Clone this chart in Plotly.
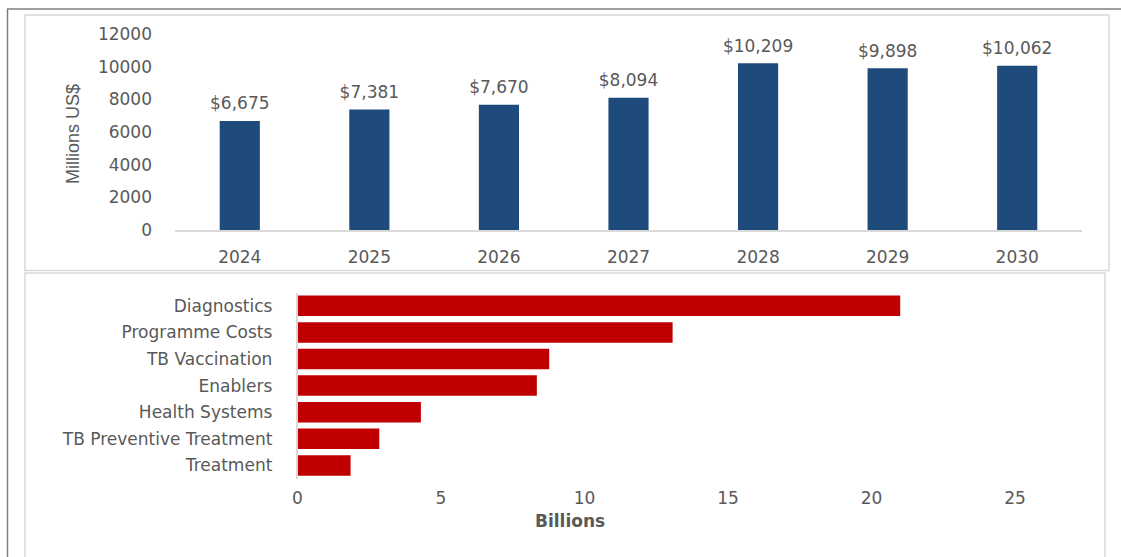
import plotly.graph_objects as go

# Annual resource needs (millions US$)
years = ["2024", "2025", "2026", "2027", "2028", "2029", "2030"]
annual_millions = [6675, 7381, 7670, 8094, 10209, 9898, 10062]

# Cumulative needs by intervention area (billions US$)
areas = ["Diagnostics", "Programme Costs", "TB Vaccination", "Enablers",
         "Health Systems", "TB Preventive Treatment", "Treatment"]
area_billions = [21.0, 13.07, 8.77, 8.34, 4.30, 2.85, 1.85]

W, H = 1121, 557
TEXT = "#595959"
FONT = "DejaVu Sans"
BLUE = "#1f4a7c"
RED = "#c00000"


def px_x(x):
    return x / W


def px_y(y):
    return 1 - y / H


fig = go.Figure()

fig.add_trace(go.Bar(
    x=years, y=annual_millions, marker=dict(color=BLUE, line=dict(width=0)),
    width=0.31, xaxis="x", yaxis="y", showlegend=False,
))

# value labels above the annual bars; the transparent marker sets the gap
fig.add_trace(go.Scatter(
    x=years, y=annual_millions, mode="markers+text",
    text=[f"${v:,}" for v in annual_millions], textposition="top center",
    textfont=dict(family=FONT, size=17, color=TEXT),
    marker=dict(size=10, opacity=0), cliponaxis=False,
    xaxis="x", yaxis="y", showlegend=False, hoverinfo="skip",
))

fig.add_trace(go.Bar(
    y=areas, x=area_billions, orientation="h",
    marker=dict(color=RED, line=dict(width=0)),
    width=0.77, xaxis="x2", yaxis="y2", showlegend=False,
))

annotations = [
    dict(x=px_x(73), y=px_y(134), xref="paper", yref="paper", text="Millions US$",
         xanchor="center", yanchor="middle", showarrow=False, textangle=-90,
         font=dict(family="Liberation Sans Narrow, Arial Narrow, Liberation Sans",
                   size=18, color=TEXT)),
    dict(x=px_x(570), y=px_y(521), xref="paper", yref="paper", text="<b>Billions</b>",
         xanchor="center", yanchor="middle", showarrow=False,
         font=dict(family=FONT, size=17, color=TEXT)),
]

shapes = [
    # outer frame lines
    dict(type="line", xref="paper", yref="paper", x0=px_x(7), x1=px_x(1125),
         y0=px_y(9), y1=px_y(9), line=dict(color="#7f7f7f", width=1.5)),
    dict(type="line", xref="paper", yref="paper", x0=px_x(7.5), x1=px_x(7.5),
         y0=px_y(9), y1=px_y(560), line=dict(color="#7f7f7f", width=1.5)),
    # panel boxes
    dict(type="rect", xref="paper", yref="paper", x0=px_x(25), x1=px_x(1109),
         y0=px_y(270.5), y1=px_y(15), line=dict(color="#d9d9d9", width=1.5)),
    dict(type="rect", xref="paper", yref="paper", x0=px_x(25), x1=px_x(1105),
         y0=px_y(565), y1=px_y(273), line=dict(color="#d9d9d9", width=1.5)),
]

fig.update_layout(
    template="none",
    width=W, height=H,
    margin=dict(l=0, r=0, t=0, b=0, pad=0, autoexpand=False),
    paper_bgcolor="white", plot_bgcolor="white",
    font=dict(family=FONT, size=16, color=TEXT),
    xaxis=dict(
        domain=[px_x(175), px_x(1082)], anchor="y", automargin=False,
        type="category", range=[-0.5, 6.5],
        showline=True, linecolor="#d9d9d9", linewidth=1.5,
        showgrid=False, zeroline=False, ticks="", ticklabelstandoff=11,
        tickfont=dict(family=FONT, size=17, color=TEXT), fixedrange=True,
    ),
    yaxis=dict(
        domain=[px_y(230), px_y(34)], anchor="x", automargin=False,
        range=[0, 12000], tickvals=[0, 2000, 4000, 6000, 8000, 10000, 12000],
        ticktext=["0", "2000", "4000", "6000", "8000", "10000", "12000"],
        showgrid=False, zeroline=False, showline=False, ticks="",
        ticklabelstandoff=22,
        tickfont=dict(family=FONT, size=17, color=TEXT), fixedrange=True,
    ),
    xaxis2=dict(
        domain=[px_x(297.5), px_x(1015)], anchor="y2", automargin=False,
        range=[0, 25], tickvals=[0, 5, 10, 15, 20, 25],
        showgrid=False, zeroline=False, showline=False, ticks="",
        ticklabelstandoff=7,
        tickfont=dict(family=FONT, size=17, color=TEXT), fixedrange=True,
    ),
    yaxis2=dict(
        domain=[px_y(478.7), px_y(292.5)], anchor="x2", automargin=False,
        type="category", autorange="reversed",
        showline=True, linecolor="#d9d9d9", linewidth=1.5,
        showgrid=False, zeroline=False, ticks="", ticklabelstandoff=20,
        tickfont=dict(family=FONT, size=17, color=TEXT), fixedrange=True,
    ),
    annotations=annotations,
    shapes=shapes,
)

fig.write_html("out.html", post_script="document.body.style.margin='0';")
